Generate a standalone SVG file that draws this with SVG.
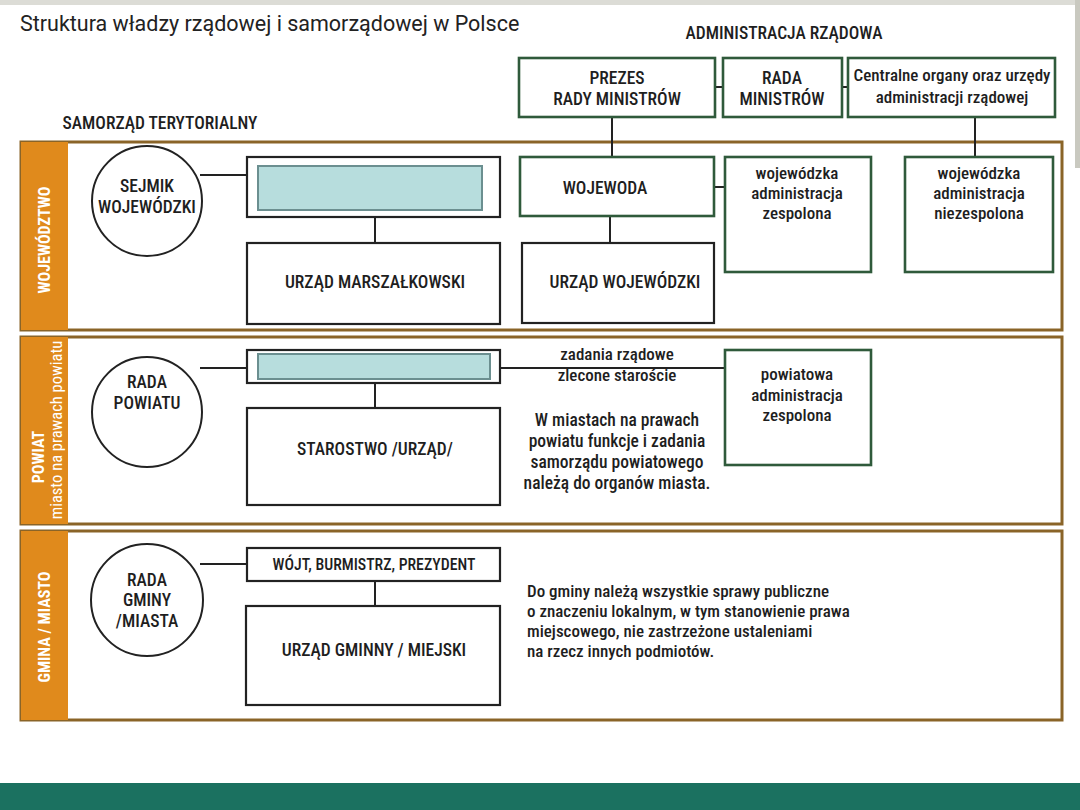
<svg xmlns="http://www.w3.org/2000/svg" width="1080" height="810" viewBox="0 0 1080 810">
<style>
.t{font-family:"Roboto Condensed","DejaVu Sans Condensed","Liberation Sans Narrow",Roboto,"Liberation Sans",sans-serif;fill:#1e1e1e;text-anchor:middle;font-stretch:condensed;font-weight:500}
.s13{font-size:17px}
.s14{font-size:17.5px}
.box{fill:#fff;stroke:#222;stroke-width:2.2}
.gbox{fill:#fff;stroke:#2f5a3b;stroke-width:2.6}
.circ{fill:#fff;stroke:#222;stroke-width:2}
.blank{fill:#b7dddd;stroke:#6b8f90;stroke-width:2}
.band{fill:#fff;stroke:#8a6428;stroke-width:3}
.strip{fill:#e08a1c}
.lbl{font-family:"Roboto Condensed",Roboto,"Liberation Sans",sans-serif;font-stretch:condensed;fill:#fff;font-weight:bold;text-anchor:middle}
.con line{stroke:#222;stroke-width:2}
</style>
<rect x="0" y="0" width="1080" height="810" fill="#fff"/>
<rect x="0" y="0" width="1080" height="5" fill="#dcdcd6"/>
<rect x="1075" y="0" width="5" height="168" fill="#c9c9c0"/>
<rect x="0" y="783" width="1080" height="27" fill="#1b7160"/>

<text x="20" y="31" style="font-family:Roboto,'Liberation Sans',sans-serif;font-size:21.5px;fill:#222">Struktura władzy rządowej i samorządowej w Polsce</text>
<text class="t s14" x="784" y="39">ADMINISTRACJA RZĄDOWA</text>
<text class="t s14" x="160" y="129">SAMORZĄD TERYTORIALNY</text>

<!-- bands -->
<g id="band-wojewodztwo">
<rect class="band" x="21" y="142" width="1041" height="188"/>
<rect class="strip" x="21" y="142" width="47" height="188"/>
<text class="lbl" transform="translate(50,240) rotate(-90)" style="font-size:16px">WOJEWÓDZTWO</text>
</g>
<g id="band-powiat">
<rect class="band" x="21" y="337" width="1041" height="187"/>
<rect class="strip" x="21" y="337" width="47" height="187"/>
<text class="lbl" transform="translate(44,457) rotate(-90)" style="font-size:16px">POWIAT</text>
<text class="lbl" transform="translate(62,430) rotate(-90)" style="font-size:16.5px;font-weight:normal">miasto na prawach powiatu</text>
</g>
<g id="band-gmina">
<rect class="band" x="21" y="531" width="1041" height="189"/>
<rect class="strip" x="21" y="531" width="47" height="189"/>
<text class="lbl" transform="translate(50,627) rotate(-90)" style="font-size:16px">GMINA / MIASTO</text>
</g>

<!-- connectors -->
<g id="connectors" class="con">
<line x1="715" y1="87" x2="723" y2="87"/>
<line x1="842" y1="87" x2="848" y2="87"/>
<line x1="612" y1="117" x2="612" y2="157"/>
<line x1="975" y1="117" x2="975" y2="157"/>
<line x1="714" y1="187" x2="725" y2="187"/>
<line x1="610" y1="216" x2="610" y2="243"/>
<line x1="200" y1="175" x2="247" y2="175"/>
<line x1="375" y1="217" x2="375" y2="243"/>
<line x1="200" y1="368" x2="247" y2="368"/>
<line x1="500" y1="368" x2="725" y2="368"/>
<line x1="375" y1="383" x2="375" y2="408"/>
<line x1="200" y1="564" x2="247" y2="564"/>
<line x1="375" y1="581" x2="375" y2="606"/>
</g>

<!-- government -->
<g id="prezes">
<rect class="gbox" x="519" y="58" width="196" height="59"/>
<text class="t s14" x="617" y="84">PREZES</text>
<text class="t s14" x="617" y="105">RADY MINISTRÓW</text>
</g>
<g id="rada-ministrow">
<rect class="gbox" x="723" y="58" width="119" height="59"/>
<text class="t s14" x="782" y="84">RADA</text>
<text class="t s14" x="782" y="105">MINISTRÓW</text>
</g>
<g id="centralne">
<rect class="gbox" x="848" y="58" width="207" height="59"/>
<text class="t s13" x="952" y="81">Centralne organy oraz urzędy</text>
<text class="t s13" x="952" y="103">administracji rządowej</text>
</g>
<g id="wojewoda">
<rect class="gbox" x="520" y="157" width="194" height="59"/>
<text class="t s14" x="605" y="194">WOJEWODA</text>
</g>
<g id="urzad-wojewodzki">
<rect class="box" x="522" y="243" width="192" height="80"/>
<text class="t s14" x="625" y="288">URZĄD WOJEWÓDZKI</text>
</g>
<g id="woj-zespolona">
<rect class="gbox" x="725" y="157" width="146" height="115"/>
<text class="t s13" x="797" y="179">wojewódzka</text>
<text class="t s13" x="797" y="199">administracja</text>
<text class="t s13" x="797" y="219">zespolona</text>
</g>
<g id="woj-niezespolona">
<rect class="gbox" x="905" y="157" width="148" height="115"/>
<text class="t s13" x="979" y="179">wojewódzka</text>
<text class="t s13" x="979" y="199">administracja</text>
<text class="t s13" x="979" y="219">niezespolona</text>
</g>

<!-- wojewodztwo self-government -->
<g id="sejmik">
<circle class="circ" cx="147" cy="201" r="55"/>
<text class="t s14" x="147" y="192">SEJMIK</text>
<text class="t s14" x="147" y="213">WOJEWÓDZKI</text>
</g>
<g id="zarzad-woj">
<rect class="box" x="247" y="157" width="253" height="60"/>
<rect class="blank" x="258" y="166" width="224" height="44"/>
</g>
<g id="urzad-marszalkowski">
<rect class="box" x="247" y="243" width="253" height="81"/>
<text class="t s14" x="375" y="288">URZĄD MARSZAŁKOWSKI</text>
</g>

<!-- powiat -->
<g id="rada-powiatu">
<circle class="circ" cx="147" cy="412" r="55"/>
<text class="t s14" x="147" y="388">RADA</text>
<text class="t s14" x="147" y="409">POWIATU</text>
</g>
<g id="zarzad-powiatu">
<rect class="box" x="247" y="350" width="253" height="33"/>
<rect class="blank" x="258" y="354" width="232" height="25"/>
</g>
<g id="starostwo">
<rect class="box" x="247" y="408" width="253" height="97"/>
<text class="t s14" x="375" y="455">STAROSTWO /URZĄD/</text>
</g>
<g id="zadania-label">
<text class="t s13" x="617" y="360">zadania rządowe</text>
<text class="t s13" x="617" y="381">zlecone staroście</text>
</g>
<g id="powiat-note">
<text class="t s14" x="617" y="426">W miastach na prawach</text>
<text class="t s14" x="617" y="447">powiatu funkcje i zadania</text>
<text class="t s14" x="617" y="468">samorządu powiatowego</text>
<text class="t s14" x="617" y="489">należą do organów miasta.</text>
</g>
<g id="pow-zespolona">
<rect class="gbox" x="725" y="350" width="146" height="115"/>
<text class="t s13" x="797" y="380">powiatowa</text>
<text class="t s13" x="797" y="401">administracja</text>
<text class="t s13" x="797" y="421">zespolona</text>
</g>

<!-- gmina -->
<g id="rada-gminy">
<circle class="circ" cx="147" cy="600" r="56"/>
<text class="t s14" x="147" y="586">RADA</text>
<text class="t s14" x="147" y="606">GMINY</text>
<text class="t s14" x="147" y="627">/MIASTA</text>
</g>
<g id="wojt">
<rect class="box" x="247" y="548" width="253" height="33"/>
<text class="t" x="374" y="570" style="font-size:15.8px">WÓJT, BURMISTRZ, PREZYDENT</text>
</g>
<g id="urzad-gminny">
<rect class="box" x="246" y="606" width="254" height="99"/>
<text class="t s14" x="374" y="656">URZĄD GMINNY / MIEJSKI</text>
</g>
<g id="gmina-note">
<text class="t s13" x="527" y="597" style="text-anchor:start">Do gminy należą wszystkie sprawy publiczne</text>
<text class="t s13" x="527" y="617" style="text-anchor:start">o znaczeniu lokalnym, w tym stanowienie prawa</text>
<text class="t s13" x="527" y="637" style="text-anchor:start">miejscowego, nie zastrzeżone ustaleniami</text>
<text class="t s13" x="527" y="657" style="text-anchor:start">na rzecz innych podmiotów.</text>
</g>
</svg>
